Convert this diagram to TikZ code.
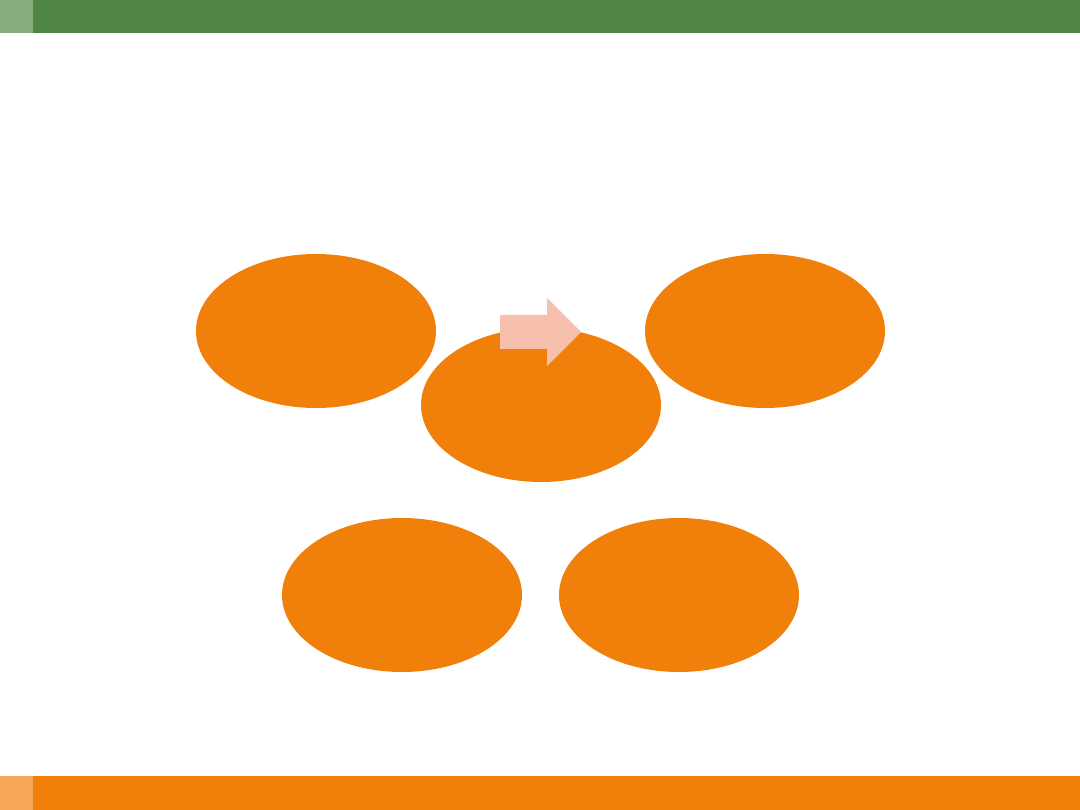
\documentclass[tikz,border=0pt]{standalone}
\usetikzlibrary{shapes.geometric}
\definecolor{bargreen}{RGB}{80,135,70}
\definecolor{lightgreen}{RGB}{134,172,124}
\definecolor{bloborange}{RGB}{240,128,10}
\definecolor{lightorange}{RGB}{245,166,87}
\definecolor{arrowpink}{RGB}{247,192,172}
\tikzset{%
	orange blob/.style={
		ellipse,
		draw=none,
		fill=bloborange,
		inner sep=0pt,
		minimum width=240pt,
		minimum height=154pt
	},
}
\begin{document}
\begin{tikzpicture}[x=1pt,y=-1pt]
		\useasboundingbox (0,0) rectangle (1080,810);
		% Bars
		\fill[bargreen] (0,0) rectangle (1080,33);
		\fill[lightgreen] (0,0) rectangle (33,33);
		\fill[bloborange] (0,776) rectangle (1080,810);
		\fill[lightorange] (0,776) rectangle (33,810);
		
		% Ellipses
		\foreach \m/\x/\y in {1/316/331,3/765/331,2/541/405,4/402/595,5/679/595}
		\node [orange blob] (blob-\m) at (\x,\y) {};
		
		% Arrow
		\fill[arrowpink] (500,315) -- (547,315) -- (547,298) -- (581,332)
		-- (547,366) -- (547,349) -- (500,349) -- cycle;
\end{tikzpicture}
\end{document}
